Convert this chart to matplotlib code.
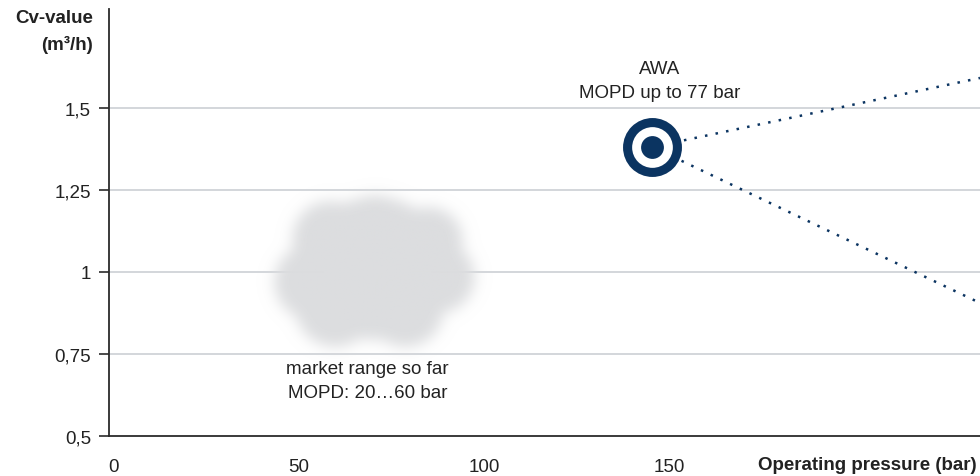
import numpy as np
import matplotlib
matplotlib.use('Agg')
import matplotlib.pyplot as plt

plt.rcParams['font.family'] = ['Liberation Sans', 'DejaVu Sans']

# data
x_ticks = [0, 50, 100, 150]
y_ticks = [0.5, 0.75, 1.0, 1.25, 1.5]
y_tick_labels = ['0,5', '0,75', '1', '1,25', '1,5']

awa_x, awa_y = 145.5, 1.38
# dotted "fan" end points (at the right border)
fan_x = [234, 234]
fan_y = [1.59, 0.905]

# cloud lobes: centre x, centre y (data), radius in px
cloud_x = [70.5, 53.5, 87.6, 58.4, 70.5, 84.9, 59.7, 78.6]
cloud_y = [1.012, 0.970, 0.985, 1.101, 1.125, 1.095, 0.893, 0.887]
cloud_r = [72, 38, 36, 38, 36, 34, 40, 38]

navy = '#0b3461'
grey_txt = '#222222'
fs = 13.5

fig = plt.figure(figsize=(9.8, 4.77), dpi=100)
ax = fig.add_axes([109/980, 40/477, 1 - 109/980, (437 - 10)/477])
ax.set_xlim(-1.3, 234)
ax.set_ylim(0.5, 1.80)

# grid + spines
for v in y_ticks[1:]:
    ax.axhline(v, color='#d3d6db', lw=1.4, zorder=0)
for s in ['top', 'right']:
    ax.spines[s].set_visible(False)
for s in ['left', 'bottom']:
    ax.spines[s].set_color('#2b2b2b')
    ax.spines[s].set_linewidth(1.3)

ax.set_xticks(x_ticks)
ax.set_xticklabels([str(t) for t in x_ticks])
ax.set_yticks(y_ticks)
ax.set_yticklabels(y_tick_labels)
ax.tick_params(axis='x', length=0, pad=16, labelsize=fs, labelcolor=grey_txt)
ax.tick_params(axis='y', length=7, width=1.2, color='#2b2b2b', pad=6,
               labelsize=fs, labelcolor=grey_txt)

# cloud, rendered as a soft image
sx = ax.bbox.width / (ax.get_xlim()[1] - ax.get_xlim()[0])
sy = ax.bbox.height / (ax.get_ylim()[1] - ax.get_ylim()[0])
x0, x1, y0, y1 = 30, 110, 0.65, 1.35
nx, ny = int((x1 - x0) * sx), int((y1 - y0) * sy)
gx = np.linspace(x0, x1, nx)
gy = np.linspace(y0, y1, ny)
GX, GY = np.meshgrid(gx, gy)
mask = np.zeros_like(GX)
for cx, cy, r in zip(cloud_x, cloud_y, cloud_r):
    d = np.hypot((GX - cx) * sx, (GY - cy) * sy)
    mask[d <= r] = 1.0
k = np.arange(-30, 31)
kern = np.exp(-k**2 / (2 * 7.0**2))
kern /= kern.sum()
blur = np.apply_along_axis(lambda m: np.convolve(m, kern, mode='same'), 0, mask)
blur = np.apply_along_axis(lambda m: np.convolve(m, kern, mode='same'), 1, blur)
img = np.zeros((ny, nx, 4))
img[..., :3] = np.array([220, 221, 223]) / 255.0
img[..., 3] = np.clip(blur, 0, 1)
ax.imshow(img, extent=[x0, x1, y0, y1], origin='lower', aspect='auto',
          zorder=1, interpolation='bilinear')

# dotted fan from the AWA target
for fx, fy in zip(fan_x, fan_y):
    ax.plot([awa_x, fx], [awa_y, fy], color=navy, lw=1.8,
            linestyle=(0, (1, 3.3)), zorder=2, clip_on=False)

# target marker
ax.scatter([awa_x], [awa_y], s=1800, color=navy, zorder=3, linewidths=0)
ax.scatter([awa_x], [awa_y], s=860, color='white', zorder=4, linewidths=0)
ax.scatter([awa_x], [awa_y], s=270, color=navy, zorder=5, linewidths=0)

# annotations
ax.text(awa_x + 2, 1.582, 'AWA\nMOPD up to 77 bar', ha='center', va='center',
        fontsize=fs, color=grey_txt, linespacing=1.55)
ax.text(68.6, 0.668, 'market range so far\nMOPD: 20…60 bar', ha='center',
        va='center', fontsize=fs, color=grey_txt, linespacing=1.55)

# axis titles
fig.text(93/980, 1 - 32/477, 'Cv-value\n(m³/h)', ha='right', va='center',
         fontsize=fs, fontweight='bold', color=grey_txt, linespacing=1.6)
fig.text(977/980, 1 - 466/477, 'Operating pressure (bar)', ha='right',
         va='center', fontsize=fs, fontweight='bold', color=grey_txt)

plt.savefig('out.png', dpi=100)
